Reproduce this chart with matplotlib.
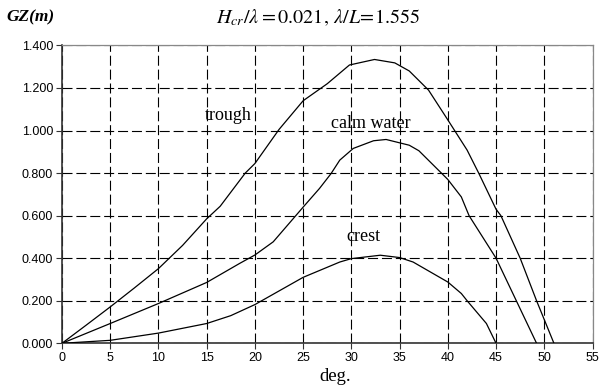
import matplotlib
matplotlib.use("Agg")
import matplotlib.pyplot as plt

# GZ curves (heel angle in deg, GZ in m)
trough_deg = [0, 2.5, 5, 7.5, 10, 12.5, 15, 16.4, 19, 20, 22.5, 25, 27.5, 29.8, 32.4, 34.5,
              36, 38, 40, 42, 43.2, 45, 45.5, 47.5, 49.2, 51]
trough_gz = [0, 0.085, 0.171, 0.26, 0.351, 0.46, 0.585, 0.644, 0.80, 0.845, 1.005, 1.14,
             1.22, 1.308, 1.334, 1.318, 1.28, 1.19, 1.05, 0.908, 0.80, 0.63, 0.60, 0.40, 0.20, 0]

calm_deg = [0, 5, 10, 15, 18.4, 20, 21.9, 25, 26.7, 27.9, 28.8, 30.2, 32.3, 33.6, 36, 37,
            40, 41.4, 42.2, 45, 47.1, 49.2]
calm_gz = [0, 0.093, 0.187, 0.286, 0.375, 0.415, 0.477, 0.64, 0.728, 0.798, 0.861, 0.916,
           0.952, 0.958, 0.931, 0.905, 0.77, 0.688, 0.60, 0.40, 0.20, 0]

crest_deg = [0, 5, 10, 15, 17.5, 20, 25, 28.8, 30, 33, 35, 36.4, 40, 41.4, 42, 44, 45]
crest_gz = [0, 0.014, 0.048, 0.093, 0.13, 0.182, 0.31, 0.382, 0.398, 0.414, 0.403, 0.382,
            0.288, 0.234, 0.20, 0.093, 0]

xticks = list(range(0, 60, 5))
yticks = [0, 0.2, 0.4, 0.6, 0.8, 1.0, 1.2, 1.4]

plt.rcParams['mathtext.fontset'] = 'stix'

fig = plt.figure(figsize=(6.04, 3.85), dpi=100)
ax = fig.add_axes([0.1026, 0.1083, 0.8784, 0.7737])

for d, g in [(trough_deg, trough_gz), (calm_deg, calm_gz), (crest_deg, crest_gz)]:
    ax.plot(d, g, color='black', lw=0.9, zorder=3)

ax.set_xlim(0, 55)
ax.set_ylim(0, 1.4)
ax.set_xticks(xticks)
ax.set_yticks(yticks)
ax.set_xticklabels([str(t) for t in xticks], family='Liberation Sans', fontsize=9)
ax.set_yticklabels(['%.3f' % t for t in yticks], family='Liberation Sans', fontsize=9)
ax.tick_params(direction='out', length=4, width=0.8, color='#333333', pad=2.5)

ax.grid(True, color='black', lw=0.8, linestyle=(0, (9, 3.5)))
for s in ['left', 'bottom']:
    ax.spines[s].set_color('#333333')
    ax.spines[s].set_linewidth(1.2)
for s in ['top', 'right']:
    ax.spines[s].set_color('#888888')
    ax.spines[s].set_linewidth(0.9)

serif = 'Liberation Serif'
ax.text(14.8, 1.07, 'trough', family=serif, fontsize=13, ha='left', va='center')
ax.text(32, 1.035, 'calm water', family=serif, fontsize=13, ha='center', va='center')
ax.text(31.3, 0.50, 'crest', family=serif, fontsize=13, ha='center', va='center')

fig.text(0.011, 0.955, 'GZ(m)', family=serif, style='italic', fontweight='bold',
         fontsize=12.5, ha='left', va='center')
fig.text(0.527, 0.955, r'$H_{cr}/\lambda = 0.021,\,\lambda/L\!=\!1.555$', fontsize=14.5,
         ha='center', va='center')
fig.text(0.555, 0.022, 'deg.', family=serif, fontsize=13.5, ha='center', va='center')

fig.savefig('out.png', dpi=100)
